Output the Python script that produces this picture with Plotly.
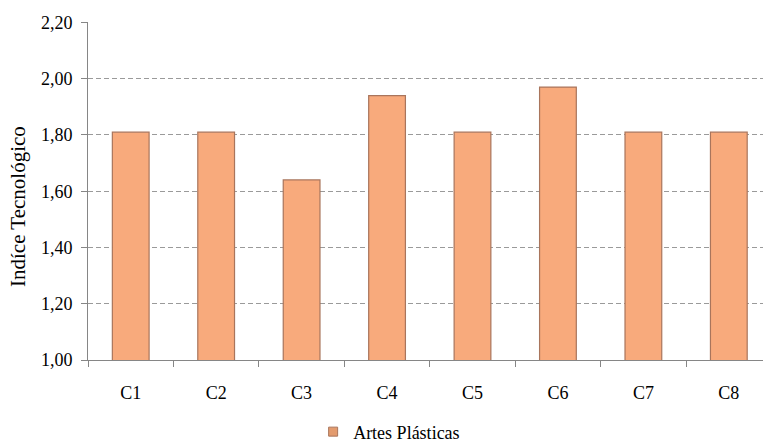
import plotly.graph_objects as go

categories = ["C1", "C2", "C3", "C4", "C5", "C6", "C7", "C8"]
values = [1.81, 1.81, 1.64, 1.94, 1.81, 1.97, 1.81, 1.81]
series_name = "Artes Plásticas"
y_title = "Indíce Tecnológico"
y_ticks = [1.0, 1.2, 1.4, 1.6, 1.8, 2.0, 2.2]

font_family = "Liberation Serif, Times New Roman, serif"
bar_fill = "#F8AA7C"
bar_edge = "#A9755C"

fig = go.Figure()
fig.add_trace(go.Bar(
    x=categories,
    y=values,
    name=series_name,
    width=0.43,
    marker=dict(color=bar_fill, line=dict(color=bar_edge, width=1.2)),
    showlegend=False,
))
# compact square key for the legend
fig.add_trace(go.Scatter(
    x=[None],
    y=[None],
    mode="markers",
    name=series_name,
    marker=dict(symbol="square", size=9, color="#E39B6E",
                line=dict(color="#A9755C", width=1)),
    showlegend=True,
))

fig.update_layout(
    width=763,
    height=443,
    margin=dict(l=88, r=0, t=22, b=83, autoexpand=False),
    paper_bgcolor="white",
    plot_bgcolor="white",
    separators=", ",
    font=dict(family=font_family, size=18, color="#000000"),
    showlegend=True,
    legend=dict(
        orientation="h",
        xref="container", x=0.51, xanchor="center",
        yref="container", y=0.025, yanchor="middle",
        font=dict(size=18),
        itemwidth=30,
        tracegroupgap=0,
    ),
)

# rotated y-axis title, placed in container pixels
fig.add_annotation(
    text=y_title,
    xref="paper", yref="paper",
    x=-88 / 675 + 18 / 675, y=(360 - 207) / 338,
    xanchor="center", yanchor="middle",
    textangle=-90,
    showarrow=False,
    font=dict(size=21, family=font_family, color="#000000"),
)

fig.update_xaxes(
    range=[-0.5, 7.4],
    showline=True,
    linecolor="#868686",
    linewidth=1,
    ticks="outside",
    tickson="boundaries",
    ticklen=6,
    tickcolor="#868686",
    ticklabelstandoff=16,
    showgrid=False,
    tickfont=dict(size=18),
)

fig.update_yaxes(
    range=[1.0, 2.2015],
    tickvals=y_ticks,
    tickformat=".2f",
    showline=True,
    linecolor="#868686",
    linewidth=1,
    ticks="outside",
    ticklen=6,
    tickcolor="#868686",
    ticklabelstandoff=5,
    showgrid=True,
    gridcolor="#9A9A9A",
    griddash="5px,3px",
    gridwidth=1,
    zeroline=False,
    tickfont=dict(size=18),
)

fig.write_html("out.html")
